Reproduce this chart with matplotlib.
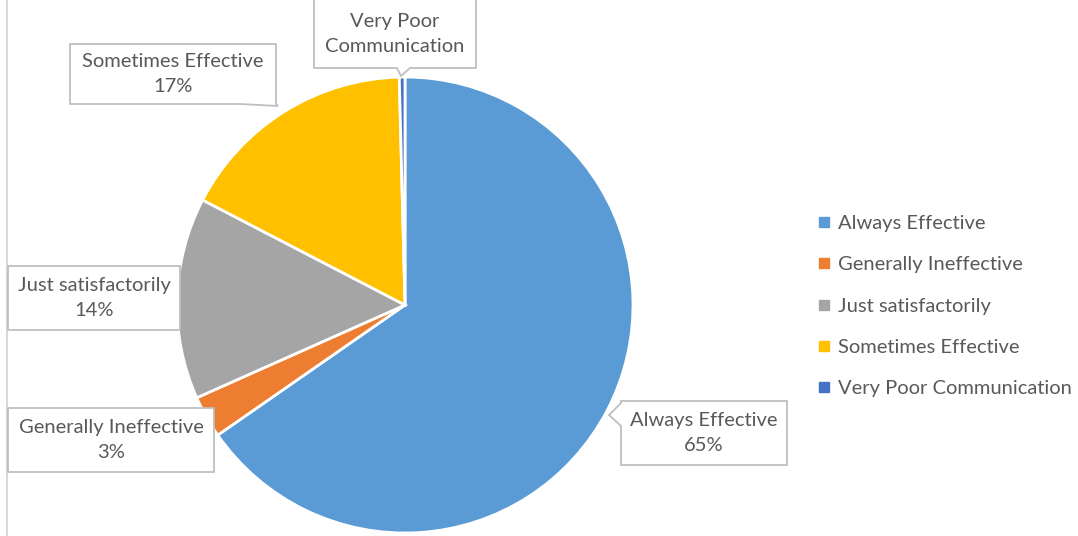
import matplotlib.pyplot as plt
from matplotlib.patches import Polygon
from matplotlib.lines import Line2D

categories = ['Always Effective', 'Generally Ineffective', 'Just satisfactorily',
              'Sometimes Effective', 'Very Poor Communication']
shares = [65.4, 3.0, 14.3, 17.0, 0.4]
pct_labels = ['65%', '3%', '14%', '17%', None]
colors = ['#5B9BD5', '#ED7D31', '#A5A5A5', '#FFC000', '#4472C4']

W, H = 1078, 536
plt.rcParams['font.family'] = ['Lato', 'DejaVu Sans']
TXT = '#595959'
FS = 14.5

fig = plt.figure(figsize=(W / 100, H / 100), dpi=100)


def fx(x):
    return x / W


def fy(y):
    return 1 - y / H


# pie: centre (405, 305) px, radius 228 px
cx, cy, r = 405, 305, 228
ax = fig.add_axes([fx(cx - r), fy(cy + r), 2 * r / W, 2 * r / H])
ax.pie(shares, colors=colors, startangle=90, counterclock=False, radius=1,
       wedgeprops=dict(edgecolor='white', linewidth=2))
ax.set_xlim(-1, 1)
ax.set_ylim(-1, 1)
ax.axis('off')

# left border line of the chart area
fig.add_artist(Line2D([fx(6.5), fx(6.5)], [0, 1], color='#d9d9d9', lw=1.5))

# callout boxes (pixel coords, top-down): x0, y0, x1, y1, tail points
boxes = {
    'Always Effective': (621, 401, 787, 465, [(621, 403), (609, 415), (621, 426)], 'left'),
    'Generally Ineffective': (8, 408, 214, 472, None, None),
    'Just satisfactorily': (8, 266, 180, 330, None, None),
    'Sometimes Effective': (70, 44, 276, 104, [(240, 104), (278, 106), (262, 104)], 'bottom'),
    'Very Poor Communication': (314, -3, 476, 68, [(397, 68), (401, 76), (410, 68)], 'bottom'),
}

for name, pct in zip(categories, pct_labels):
    x0, y0, x1, y1, tail, side = boxes[name]
    pts = [(x0, y0), (x1, y0), (x1, y1)]
    if tail and side == 'bottom':
        t = sorted(tail, key=lambda p: -p[0])
        pts += [t[0], tail[1], t[-1]]
    pts += [(x0, y1)]
    if tail and side == 'left':
        pts += [tail[2], tail[1], tail[0]]
    poly = Polygon([(fx(px), fy(py)) for px, py in pts], closed=True,
                   transform=fig.transFigure, facecolor='white',
                   edgecolor='#bfbfbf', lw=1.3, zorder=3)
    fig.add_artist(poly)
    if name == 'Very Poor Communication':
        text = 'Very Poor\nCommunication'
    else:
        text = f'{name}\n{pct}'
    fig.text(fx((x0 + x1) / 2), fy((max(y0, 0) + y1) / 2), text, ha='center',
             va='center', fontsize=FS, color=TXT, linespacing=1.55, zorder=4)

# legend
handles = [Line2D([], [], marker='s', color=c, ls='none', markersize=6.5)
           for c in colors]
fig.legend(handles, categories, loc='upper left',
           bbox_to_anchor=(fx(808), fy(205)), frameon=False, fontsize=FS,
           labelcolor=TXT, handlelength=0.55, handletextpad=0.45,
           labelspacing=1.2, borderpad=0)

fig.savefig('out.png', dpi=100)
